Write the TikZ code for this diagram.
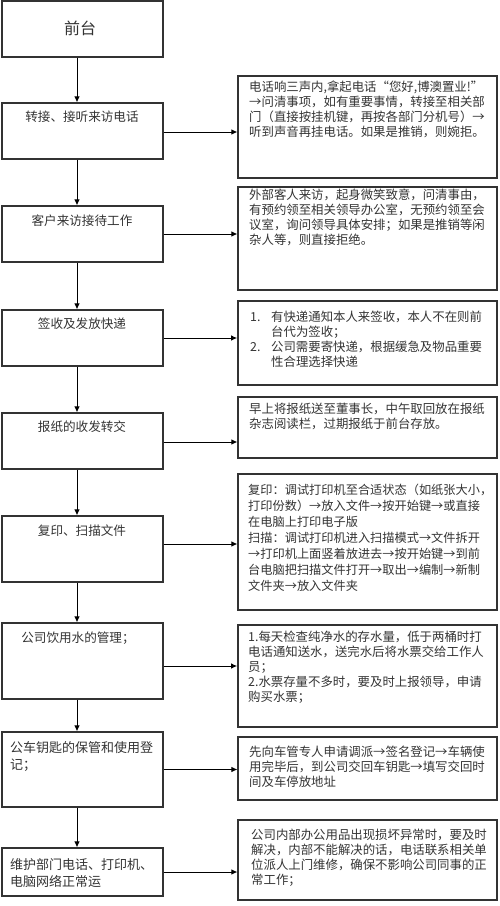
\documentclass[tikz,border=0pt]{standalone}
\usepackage{fontspec}
\setmainfont{Noto Sans CJK SC}
\usetikzlibrary{arrows.meta}
\definecolor{ink}{HTML}{333333}
\begin{document}
\begin{tikzpicture}[x=1pt,y=-1pt,
  box/.style={draw=ink,line width=1.1pt,inner sep=0pt,minimum width=161pt},
  rbox/.style={draw=ink,line width=1.1pt,inner sep=0pt,minimum width=259pt},
  thick box/.style={line width=1.7pt},
  ltext/.style={inner sep=0pt,text=ink,font=\fontsize{12.6}{17}\selectfont,align=center},
  lltext/.style={inner sep=0pt,text=ink,font=\fontsize{13}{17}\selectfont,align=left,anchor=north west},
  rtext/.style={inner sep=0pt,text=ink,font=\fontsize{12.4}{15}\selectfont,align=left,anchor=north west},
  arr/.style={draw=black,line width=1pt,-{Latex[length=6pt,width=5.5pt]}}]
\useasboundingbox (0,0) rectangle (500,906);
% left boxes
\node[box,minimum height=56pt] (L0) at (82.5,29) {};
\node[box,minimum height=56pt] (L1) at (82.5,131) {};
\node[box,minimum height=56pt] (L2) at (82.5,234) {};
\node[box,minimum height=56pt] (L3) at (82.5,338) {};
\node[box,minimum height=56pt] (L4) at (82.5,441) {};
\node[box,minimum height=66pt] (L5) at (82.5,549) {};
\node[box,minimum height=76pt] (L6) at (82.5,661) {};
\node[box,minimum height=75pt] (L7) at (82.5,769.5) {};
\node[box,minimum height=48pt] (L8) at (82.5,872) {};
% left texts
\node[ltext,font=\fontsize{16}{18}\selectfont] (t0) at (80,28) {前台};
\node[ltext] (t1) at (82,117) {转接、接听来访电话};
\node[ltext] (t2) at (82,221) {客户来访接待工作};
\node[ltext] (t3) at (82,324) {签收及发放快递};
\node[ltext] (t4) at (82,427) {报纸的收发转交};
\node[ltext] (t5) at (82,531) {复印、扫描文件};
\node[ltext] (t6) at (78,638) {公司饮用水的管理；};
\node[lltext] (t7) at (10,741) {公车钥匙的保管和使用登\\记；};
\node[lltext] (t8) at (10,858.5) {维护部门电话、打印机、\\电脑网络正常运};
% right boxes
\node[rbox,minimum height=102pt] (R1) at (367.5,127) {};
\node[rbox,minimum height=103pt] (R2) at (367.5,238.5) {};
\node[rbox,thick box,minimum height=84pt] (R3) at (367.5,343) {};
\node[rbox,minimum height=61pt] (R4) at (367.5,427.5) {};
\node[rbox,minimum height=136pt] (R5) at (367.5,542) {};
\node[rbox,thick box,minimum height=102pt] (R6) at (367.5,676) {};
\node[rbox,minimum height=63pt] (R7) at (367.5,768.5) {};
\node[rbox,minimum height=80pt] (R8) at (367.5,860) {};
% right texts
\node[rtext] (s1) at (249,81) {电话响三声内,拿起电话“您好,博澳置业!”\\→问清事项，如有重要事情，转接至相关部\\门（直接按挂机键，再按各部门分机号）→\\听到声音再挂电话。如果是推销，则婉拒。};
\node[rtext] (s2) at (249,189) {外部客人来访，起身微笑致意，问清事由，\\有预约领至相关领导办公室，无预约领至会\\议室，询问领导具体安排；如果是推销等闲\\杂人等，则直接拒绝。};
\node[rtext] (s3) at (250,311) {\makebox[21pt][l]{1.}有快递通知本人来签收，本人不在则前\\\hspace*{21pt}台代为签收；\\\makebox[21pt][l]{2.}公司需要寄快递，根据缓急及物品重要\\\hspace*{21pt}性合理选择快递};
\node[rtext] (s4) at (249,403) {早上将报纸送至董事长，中午取回放在报纸\\杂志阅读栏，过期报纸于前台存放。};
\node[rtext,font=\fontsize{12.2}{16}\selectfont] (s5) at (248,484) {复印：调试打印机至合适状态（如纸张大小，\\打印份数）→放入文件→按开始键→或直接\\在电脑上打印电子版\\扫描：调试打印机进入扫描模式→文件拆开\\→打印机上面竖着放进去→按开始键→到前\\台电脑把扫描文件打开→取出→编制→新制\\文件夹→放入文件夹};
\node[rtext] (s6) at (248,631) {1.每天检查纯净水的存水量，低于两桶时打\\电话通知送水，送完水后将水票交给工作人\\员；\\2.水票存量不多时，要及时上报领导，申请\\购买水票；};
\node[rtext] (s7) at (249,746) {先向车管专人申请调派→签名登记→车辆使\\用完毕后，到公司交回车钥匙→填写交回时\\间及车停放地址};
\node[rtext] (s8) at (251,829) {公司内部办公用品出现损坏异常时，要及时\\解决，内部不能解决的话，电话联系相关单\\位派人上门维修，确保不影响公司同事的正\\常工作；};
% vertical arrows
\foreach \a/\b in {L0/L1,L1/L2,L2/L3,L3/L4,L4/L5,L5/L6,L6/L7,L7/L8}{
  \draw[arr] ([xshift=-5.5pt]\a.south) -- ([xshift=-5.5pt]\a.south |- \b.north);
}
% horizontal arrows
\draw[arr] ([yshift=-1pt]L1.east) -- ([yshift=-1pt]L1.east -| R1.west);
\draw[arr] (L2.east) -- (L2.east -| R2.west);
\draw[arr] (L3.east) -- (L3.east -| R3.west);
\draw[arr] ([yshift=-1pt]L4.east) -- ([yshift=-1pt]L4.east -| R4.west);
\draw[arr] ([yshift=5pt]L5.east) -- ([yshift=5pt]L5.east -| R5.west);
\draw[arr] ([yshift=-5pt]L6.east) -- ([yshift=-5pt]L6.east -| R6.west);
\draw[arr] (L7.east) -- (L7.east -| R7.west);
\draw[arr] (L8.east) -- (L8.east -| R8.west);
\end{tikzpicture}
\end{document}
